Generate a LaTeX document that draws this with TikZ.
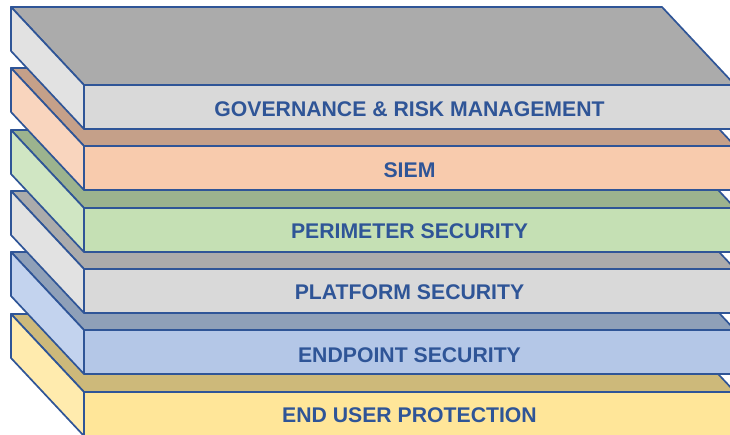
\documentclass[tikz,border=0pt]{standalone}
\usepackage{xcolor}
\usepackage{tikz}
\usepackage{fontspec}
\setmainfont{Liberation Sans}
\usetikzlibrary{positioning}
\definecolor{darkblue}{HTML}{2F5597}
\definecolor{greytop}{HTML}{ABABAB}
\definecolor{greyfront}{HTML}{D9D9D9}
\definecolor{greyside}{HTML}{E2E2E2}
\definecolor{peachtop}{HTML}{C5A089}
\definecolor{peachfront}{HTML}{F8CBAD}
\definecolor{peachside}{HTML}{F9D5BE}
\definecolor{greentop}{HTML}{9CB38E}
\definecolor{greenfront}{HTML}{C5E0B4}
\definecolor{greenside}{HTML}{D0E6C3}
\definecolor{bluetop}{HTML}{8FA0B8}
\definecolor{bluefront}{HTML}{B4C7E7}
\definecolor{blueside}{HTML}{C3D3EE}
\definecolor{yellowtop}{HTML}{CDB97A}
\definecolor{yellowfront}{HTML}{FFE699}
\definecolor{yellowside}{HTML}{FFEBAE}

\begin{document}
\begin{tikzpicture}[x=1bp,y=-1bp,
  face/.style={draw=darkblue,line width=1.7bp,line join=round},
  layertext/.style={font=\bfseries\fontsize{21.3}{21.3}\selectfont,text=darkblue}]
  \useasboundingbox (0,0) rectangle (730,435);
  \clip (0,0) rectangle (730,435);

  % Slabs, drawn bottom up so each one hides the top of the next
  \filldraw[face,fill=yellowtop] (11,314) -- (662,314) -- (735,392) -- (84,392) -- cycle;
  \filldraw[face,fill=yellowside] (11,314) -- (84,392) -- (84,436) -- (11,358) -- cycle;
  \filldraw[face,fill=yellowfront] (84,392) rectangle (735,436);

  \filldraw[face,fill=bluetop] (11,252) -- (662,252) -- (735,330) -- (84,330) -- cycle;
  \filldraw[face,fill=blueside] (11,252) -- (84,330) -- (84,374) -- (11,296) -- cycle;
  \filldraw[face,fill=bluefront] (84,330) rectangle (735,374);

  \filldraw[face,fill=greytop] (11,191) -- (662,191) -- (735,269) -- (84,269) -- cycle;
  \filldraw[face,fill=greyside] (11,191) -- (84,269) -- (84,313) -- (11,235) -- cycle;
  \filldraw[face,fill=greyfront] (84,269) rectangle (735,313);

  \filldraw[face,fill=greentop] (11,130) -- (662,130) -- (735,208) -- (84,208) -- cycle;
  \filldraw[face,fill=greenside] (11,130) -- (84,208) -- (84,252) -- (11,174) -- cycle;
  \filldraw[face,fill=greenfront] (84,208) rectangle (735,252);

  \filldraw[face,fill=peachtop] (11,68) -- (662,68) -- (735,146) -- (84,146) -- cycle;
  \filldraw[face,fill=peachside] (11,68) -- (84,146) -- (84,190) -- (11,112) -- cycle;
  \filldraw[face,fill=peachfront] (84,146) rectangle (735,190);

  \filldraw[face,fill=greytop] (11,7) -- (662,7) -- (735,85) -- (84,85) -- cycle;
  \filldraw[face,fill=greyside] (11,7) -- (84,85) -- (84,129) -- (11,51) -- cycle;
  \filldraw[face,fill=greyfront] (84,85) rectangle (735,129);

  % Labels
  \node[layertext] (gov) at (409.5,109) {GOVERNANCE \& RISK MANAGEMENT};
  \node[layertext] (siem) at (409.5,170) {SIEM};
  \node[layertext] (perimeter) at (409.5,231.5) {PERIMETER SECURITY};
  \node[layertext] (platform) at (409.5,292.5) {PLATFORM SECURITY};
  \node[layertext] (endpoint) at (409.5,355) {ENDPOINT SECURITY};
  \node[layertext] (enduser) at (409.5,415.5) {END USER PROTECTION};
\end{tikzpicture}
\end{document}
